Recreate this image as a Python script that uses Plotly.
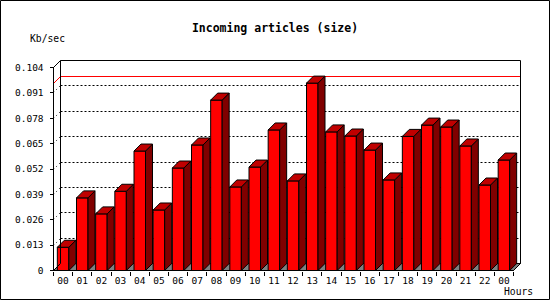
import math
import plotly.graph_objects as go

# ---------------- data ----------------
hours = ["00", "01", "02", "03", "04", "05", "06", "07", "08", "09", "10", "11",
         "12", "13", "14", "15", "16", "17", "18", "19", "20", "21", "22", "00"]
values = [0.0119, 0.0372, 0.0290, 0.0406, 0.0612, 0.0310, 0.0525, 0.0643,
          0.0873, 0.0428, 0.0530, 0.0720, 0.0459, 0.0960, 0.0710, 0.0689,
          0.0617, 0.0464, 0.0687, 0.0745, 0.0735, 0.0638, 0.0438, 0.0566]
ytick_vals = [0, 0.013, 0.026, 0.039, 0.052, 0.065, 0.078, 0.091, 0.104]
ytick_text = ["0", "0.013", "0.026", "0.039", "0.052", "0.065", "0.078", "0.091", "0.104"]
title_text = "Incoming articles (size)"
y_title = "Kb/sec"
x_title = "Hours"

# ---------------- geometry (pixels) ----------------
W, H = 550, 300
PL, PR, PT, PB = 50, 524, 57, 274          # plot area in px
X0 = 53.5                                  # px of the left slot boundary
SW = 460 / 24                              # px per category slot
Y0 = 270.5                                 # px of value 0
SY = ytick_vals[-1] / 203.0                # value per px
DEPTH = 7                                  # 3D depth in px
BW = 0.6                                   # bar front width (slot units)

n = len(values)
idx = list(range(n))
left, right = -0.5, n - 0.5
xmin = left - (X0 - PL) / SW
xmax = left + (PR - X0) / SW
ymin = -(PB - Y0) * SY
ymax = (Y0 - PT) * SY
dx = DEPTH / SW
dy = DEPTH * SY
ytop = ytick_vals[-1]
vmax = max(values)


def snap(v):
    """Value whose pixel row is the centre of the nearest pixel (crisp lines)."""
    py = Y0 - v / SY
    return (Y0 - (math.floor(py) + 0.5)) * SY


FRONT = "#FF0000"
TOP = "#C00000"
SIDE = "#800000"
FLOOR = "#808080"
MONO = "DejaVu Sans Mono"

# polygons for the side and top faces, derived from values
sx, sy_, tx, ty = [], [], [], []
hw = BW / 2
for i, v in zip(idx, values):
    sx += [i + hw, i + hw + dx, i + hw + dx, i + hw, i + hw, None]
    sy_ += [0, dy, v + dy, v, 0, None]
    tx += [i - hw, i - hw + dx, i + hw + dx, i + hw, i - hw, None]
    ty += [v, v + dy, v + dy, v, v, None]

fig = go.Figure()
fig.add_trace(go.Bar(x=idx, y=values, width=BW,
                     marker=dict(color=FRONT, line=dict(color="black", width=1)),
                     hoverinfo="skip"))
fig.add_trace(go.Scatter(x=sx, y=sy_, mode="lines", fill="toself", fillcolor=SIDE,
                         line=dict(color="black", width=1), hoverinfo="skip"))
fig.add_trace(go.Scatter(x=tx, y=ty, mode="lines", fill="toself", fillcolor=TOP,
                         line=dict(color="black", width=1), hoverinfo="skip"))

shapes = []
# floor
shapes.append(dict(type="path", xref="x", yref="y", layer="below",
                   path=f"M{left},0 L{left+dx},{dy} L{right+dx},{dy} L{right},0 Z",
                   fillcolor=FLOOR, line=dict(color="black", width=1)))
# back-wall grid lines and side-wall grid marks
for v in ytick_vals[1:-1]:
    yb = snap(v + dy)
    shapes.append(dict(type="line", xref="x", yref="y", layer="below",
                       x0=left + dx, x1=right + dx, y0=yb, y1=yb,
                       line=dict(color="black", width=1, dash="2px,2px")))
    shapes.append(dict(type="line", xref="x", yref="y", layer="below",
                       x0=left, x1=left + dx, y0=snap(v), y1=yb,
                       line=dict(color="black", width=1, dash="1px,3px")))
# max line
ym = snap(vmax + dy)
shapes.append(dict(type="line", xref="x", yref="y", layer="below",
                   x0=left + dx, x1=right + dx, y0=ym, y1=ym,
                   line=dict(color="#FF0000", width=1)))
shapes.append(dict(type="line", xref="x", yref="y", layer="below",
                   x0=left, x1=left + dx, y0=snap(vmax), y1=ym,
                   line=dict(color="#FF0000", width=1)))
# box frame
frame = [
    (left + dx, ytop + dy, right + dx, ytop + dy),
    (left + dx, dy, left + dx, ytop + dy),
    (right + dx, dy, right + dx, ytop + dy),
    (left, ytop, left + dx, ytop + dy),
    (left, 0, left, ytop),
    (left, 0, right, 0),
    (right, 0, right + dx, dy),
    (left, 0, left + dx, dy),
]
for x0_, y0_, x1_, y1_ in frame:
    shapes.append(dict(type="line", xref="x", yref="y", layer="above",
                       x0=x0_, y0=y0_, x1=x1_, y1=y1_,
                       line=dict(color="black", width=1)))
# outer image border
pw, ph = PR - PL, PB - PT
shapes.append(dict(type="rect", xref="paper", yref="paper",
                   x0=(0.5 - PL) / pw, x1=(W - 0.5 - PL) / pw,
                   y0=(PB - (H - 0.5)) / ph, y1=(PB - 0.5) / ph,
                   line=dict(color="black", width=1), fillcolor="rgba(0,0,0,0)"))

annotations = [
    dict(text=y_title, xref="paper", yref="paper", x=(28 - PL) / pw, y=(PB - 38.5) / ph,
         xanchor="left", yanchor="middle", showarrow=False,
         font=dict(family=MONO, size=9.7, color="black")),
    dict(text=x_title, xref="paper", yref="paper", x=(535 - PL) / pw, y=(PB - 291.5) / ph,
         xanchor="right", yanchor="middle", showarrow=False,
         font=dict(family=MONO, size=9.7, color="black")),
]

fig.update_layout(
    width=W, height=H,
    margin=dict(l=PL, r=W - PR, t=PT, b=H - PB, pad=0),
    paper_bgcolor="white", plot_bgcolor="white",
    showlegend=False,
    title=dict(text=f"<b>{title_text}</b>", x=0.5, xanchor="center", xref="container",
               y=1 - 28 / H, yanchor="middle", yref="container",
               font=dict(family=MONO, size=11.5, color="black")),
    xaxis=dict(range=[xmin, xmax], anchor="free", position=(PB - Y0) / ph,
               showline=False, showgrid=False, zeroline=False,
               tickmode="array", tickvals=idx, ticktext=hours, ticks="",
               ticklabelstandoff=3,
               tickfont=dict(family=MONO, size=9.5, color="black"),
               minor=dict(tickmode="array", tickvals=[i - 0.5 for i in range(n + 1)],
                          ticks="outside", ticklen=4, tickwidth=1, tickcolor="black",
                          showgrid=False)),
    yaxis=dict(range=[ymin, ymax], anchor="free", position=(X0 - PL) / pw,
               showline=False, showgrid=False, zeroline=False,
               tickmode="array", tickvals=ytick_vals, ticktext=ytick_text,
               ticks="outside", ticklen=4, tickwidth=1, tickcolor="black",
               ticklabelstandoff=4,
               tickfont=dict(family=MONO, size=9.5, color="black")),
    shapes=shapes,
    annotations=annotations,
)

fig.write_html("out.html")
